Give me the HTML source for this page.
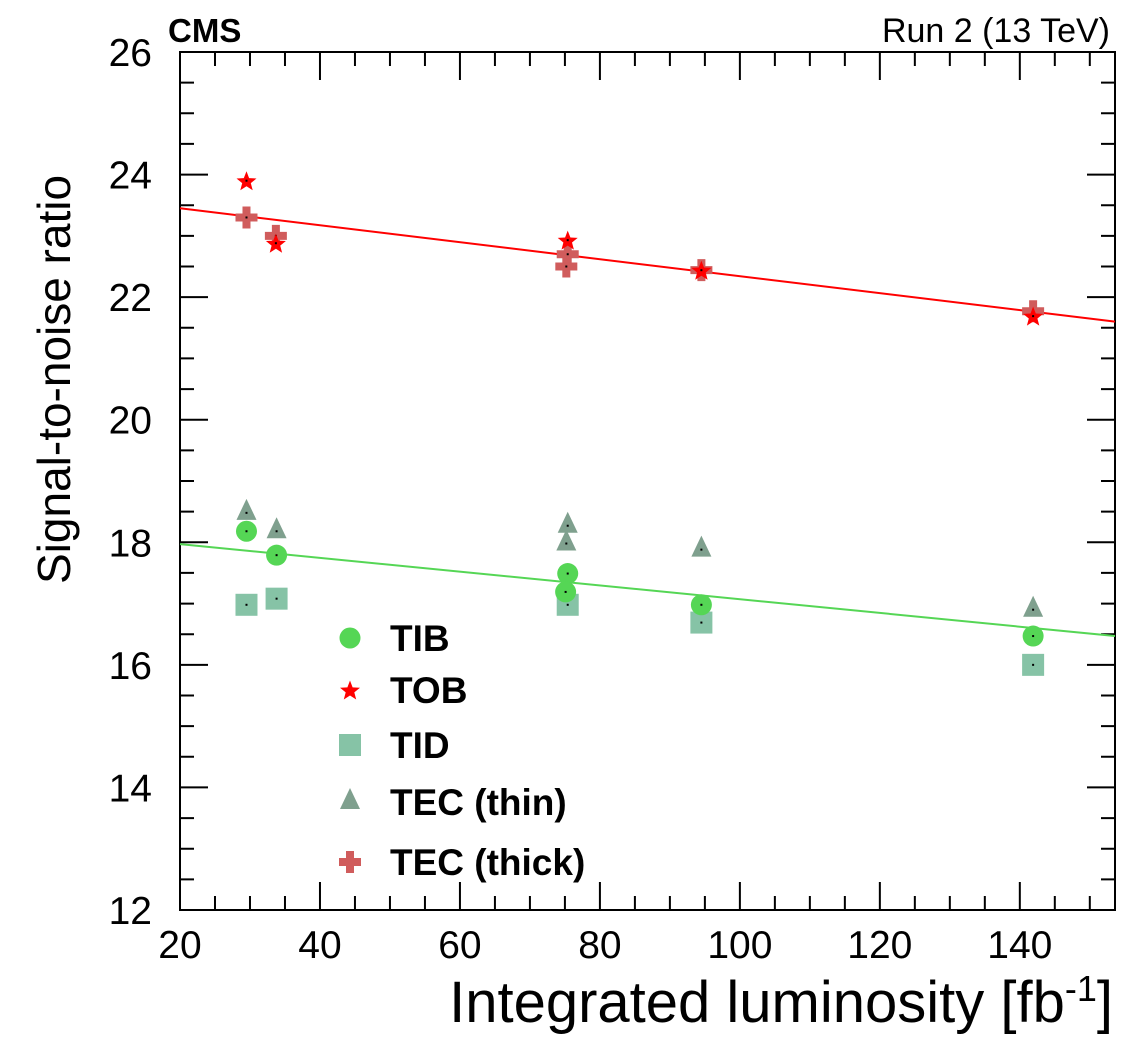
<!DOCTYPE html>
<html><head><meta charset="utf-8"><style>
html,body{margin:0;padding:0;background:#fff;}
svg{display:block;font-family:"Liberation Sans",sans-serif;}
</style></head><body>
<svg id="chart" width="1134" height="1048" viewBox="0 0 1134 1048" xmlns="http://www.w3.org/2000/svg">
<g id="grid"></g>
<g id="marks"></g>
<g id="legend"></g>
</svg>
<script>
const xTicks=[20,40,60,80,100,120,140];
const yTicks=[12,14,16,18,20,22,24,26];
const tibX=[29.5,33.8,75.4,75.1,94.5,141.9];
const tibY=[18.18,17.79,17.49,17.19,16.98,16.47];
const tobX=[29.5,33.7,75.4,94.5,141.9];
const tobY=[23.90,22.88,22.93,22.44,21.69];
const tidX=[29.5,33.8,75.4,94.5,141.9];
const tidY=[16.98,17.08,16.98,16.69,16.00];
const tecThinX=[29.5,33.8,75.4,75.2,94.5,141.9];
const tecThinY=[18.48,18.18,18.27,17.98,17.88,16.90];
const tecThickX=[29.5,33.7,75.4,75.2,94.5,141.9];
const tecThickY=[23.30,23.00,22.70,22.50,22.44,21.77];
const fitRed=[23.45,21.60];
const fitGreen=[17.97,16.47];
const X0=180,X1=1115,Y0=910,Y1=52;
const xmin=20,xmax=153.6,ymin=12,ymax=26;
const sx=v=>X0+(v-xmin)/(xmax-xmin)*(X1-X0);
const sy=v=>Y0-(v-ymin)/(ymax-ymin)*(Y0-Y1);
const NS="http://www.w3.org/2000/svg";
function mk(tag,attrs,parent,text){const e=document.createElementNS(NS,tag);for(const k in attrs)e.setAttribute(k,attrs[k]);if(text!==undefined)e.textContent=text;parent.appendChild(e);return e;}
const grid=document.getElementById('grid'),marks=document.getElementById('marks'),legend=document.getElementById('legend');
let f=mk('rect',{x:X0,y:Y1,width:X1-X0,height:Y0-Y1,fill:'none',stroke:'#000','stroke-width':2},grid);


for(let v=ymin;v<=ymax+1e-9;v+=0.5){const maj=Math.abs(v-Math.round(v/2)*2)<1e-9;const L=maj?28:14;const y=sy(v);
 let t=mk('path',{d:`M${X0},${y}h${L}M${X1},${y}h${-L}`,stroke:'#000','stroke-width':2},grid);
 
 }
for(let v=xmin;v<=xmax;v+=5){const maj=(v%20)===0;const L=maj?28:14;const x=sx(v);
 let t=mk('path',{d:`M${x},${Y0}v${-L}M${x},${Y1}v${L}`,stroke:'#000','stroke-width':2},grid);
 
 }
yTicks.forEach(v=>{let t=mk('text',{x:152,y:sy(v)+14,'text-anchor':'end','font-size':39},grid,String(v));
 
 });
xTicks.forEach(v=>{let t=mk('text',{x:sx(v),y:958,'text-anchor':'middle','font-size':39},grid,String(v));
 
 });
let yt=mk('text',{x:0,y:0,transform:'translate(70,584) rotate(-90)','font-size':46,'text-anchor':'start'},grid,'Signal-to-noise ratio');


let xt=mk('text',{x:1113,y:1022,'font-size':58,'text-anchor':'end'},grid);


xt.innerHTML='Integrated luminosity [fb<tspan dy="-21" font-size="36">-1</tspan><tspan dy="21">]</tspan>';
let cms=mk('text',{x:168,y:42,'font-size':33,'font-weight':'bold'},grid,'CMS');


let run=mk('text',{x:1110,y:42,'font-size':34,'text-anchor':'end'},grid,'Run 2 (13 TeV)');


let fr=mk('line',{x1:sx(xmin),y1:sy(fitRed[0]),x2:sx(xmax),y2:sy(fitRed[1]),stroke:'#ff0000','stroke-width':2},marks);


let fg=mk('line',{x1:sx(xmin),y1:sy(fitGreen[0]),x2:sx(xmax),y2:sy(fitGreen[1]),stroke:'#55d655','stroke-width':2},marks);


function marker(type,x,y,p){
 let e;
 if(type==='circle')e=mk('circle',{cx:x,cy:y,r:10.5,fill:'#55d655'},p);
 else if(type==='square')e=mk('rect',{x:x-11,y:y-11,width:22,height:22,fill:'#86c3a6'},p);
 else if(type==='tri')e=mk('path',{d:`M${x},${y-14}L${x+10},${y+7}L${x-10},${y+7}Z`,fill:'#7fa08e'},p);
 else if(type==='plus')e=mk('path',{d:`M${x-4},${y-11}h8v7h7v8h-7v7h-8v-7h-7v-8h7Z`,fill:'#d05c5c'},p);
 else {let pts=[];for(let i=0;i<10;i++){const a=Math.PI/5*i+Math.PI/2;const r=i%2?4.5:10.5;pts.push((x+r*Math.cos(a)).toFixed(1)+','+(y-r*Math.sin(a)+1).toFixed(1));}
  e=mk('polygon',{points:pts.join(' '),fill:'#ff0000'},p);}
 return e;}
function series(xs,ys,type,name){xs.forEach((v,i)=>{const e=marker(type,sx(v),sy(ys[i]),marks);
 
 
 mk('rect',{x:sx(v)-1,y:sy(ys[i])-1,width:2,height:2,fill:'#000'},marks);});}
series(tecThinX,tecThinY,'tri','tec-thin-point');
series(tidX,tidY,'square','tid-point');
series(tibX,tibY,'circle','tib-point');
series(tecThickX,tecThickY,'plus','tec-thick-point');
series(tobX,tobY,'star','tob-point');
const leg=[['circle','TIB',638],['star','TOB',690],['square','TID',745],['tri','TEC (thin)',802],['plus','TEC (thick)',862]];
leg.forEach(l=>{const m=marker(l[0],350,l[2],legend);
 
 
 const t=mk('text',{x:390,y:l[2]+13,'font-size':37,'font-weight':'bold'},legend,l[1]);
 
 });
</script>
</body></html>
